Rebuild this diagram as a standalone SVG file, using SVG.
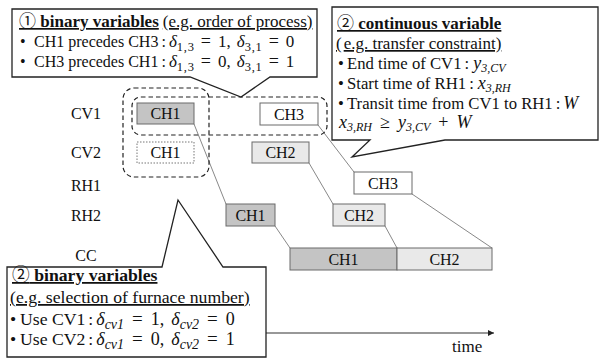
<svg xmlns="http://www.w3.org/2000/svg" width="601" height="359" viewBox="0 0 601 359">
<style>
text{font-family:'Liberation Serif',serif;fill:#111}
.cjk{font-family:'Noto Sans CJK JP',sans-serif;font-weight:normal}
.lbl{font-size:16px;text-anchor:middle}
.nb{stroke:#6a6a6a;stroke-width:1}
.dk{fill:#c4c4c4}
.lt{fill:#e9e9e9}
.wh{fill:#fff}
.con line{stroke:#7a7a7a;stroke-width:0.9}
.dash{fill:none;stroke:#222;stroke-width:1.2;stroke-dasharray:4.5,3}
.call{fill:#fff;stroke:#222;stroke-width:1.3}
.b{font-weight:bold}
.u{text-decoration:underline}
.m{font-style:italic}
.s1{font-size:12.5px;letter-spacing:0.8px}
.s2{font-size:12px;font-style:italic}
.s3{font-size:14px;font-style:italic}
</style>
<defs>
<marker id="ah" markerWidth="8" markerHeight="8" refX="6" refY="3" orient="auto" markerUnits="userSpaceOnUse">
<path d="M0,0 L6,3 L0,6 Z" fill="#222"/>
</marker>
</defs>

<g id="row-labels">
<text class="lbl" x="86" y="119">CV1</text>
<text class="lbl" x="86" y="158">CV2</text>
<text class="lbl" x="86" y="191">RH1</text>
<text class="lbl" x="86" y="221">RH2</text>
<text class="lbl" x="86" y="261">CC</text>
</g>

<g id="connectors" class="con">
<line x1="194" y1="124" x2="226" y2="204"/>
<line x1="275" y1="226" x2="290" y2="248"/>
<line x1="309" y1="163" x2="333" y2="204"/>
<line x1="385" y1="226" x2="397" y2="248"/>
<line x1="318" y1="125" x2="354" y2="172"/>
<line x1="412" y1="194" x2="492" y2="248"/>
</g>

<g id="cv1-ch1"><rect class="nb dk" x="137" y="103" width="57" height="21"/><text class="lbl" x="165.5" y="119">CH1</text></g>
<g id="cv2-ch1"><rect x="137" y="142" width="57" height="21" fill="#fff" stroke="#777" stroke-width="1" stroke-dasharray="1.5,1.5"/><text class="lbl" x="165.5" y="158">CH1</text></g>
<g id="cv1-ch3"><rect class="nb wh" x="260" y="103" width="58" height="22"/><text class="lbl" x="289" y="119.5">CH3</text></g>
<g id="cv2-ch2"><rect class="nb lt" x="252" y="142" width="57" height="21"/><text class="lbl" x="280.5" y="158">CH2</text></g>
<g id="rh1-ch3"><rect class="nb wh" x="354" y="172" width="58" height="22"/><text class="lbl" x="383" y="188.5">CH3</text></g>
<g id="rh2-ch1"><rect class="nb dk" x="226" y="204" width="49" height="22"/><text class="lbl" x="250.5" y="220.5">CH1</text></g>
<g id="rh2-ch2"><rect class="nb lt" x="333" y="204" width="52" height="22"/><text class="lbl" x="359" y="220.5">CH2</text></g>
<g id="cc-ch1"><rect class="nb dk" x="290" y="248" width="107" height="22"/><text class="lbl" x="343.5" y="264.5">CH1</text></g>
<g id="cc-ch2"><rect class="nb lt" x="397" y="248" width="95" height="22"/><text class="lbl" x="444.5" y="264.5">CH2</text></g>

<g id="groups">
<rect class="dash" x="123" y="88" width="86" height="89" rx="11"/>
<rect class="dash" x="132" y="97" width="195" height="38" rx="9"/>
</g>

<g id="time-axis">
<line x1="266" y1="333" x2="494" y2="333" stroke="#333" stroke-width="1.2" marker-end="url(#ah)"/>
<text x="452" y="352" font-size="17">time</text>
</g>

<g id="callout-order">
<path class="call" d="M12,9 H317 V77 H270 L241,97 L190,77 H12 Z"/>
<text x="19" y="27" font-size="17" class="u"><tspan class="cjk">①</tspan><tspan class="b"> binary variables</tspan><tspan dx="4">(e.g. order of process)</tspan></text>
<text y="47" font-size="16"><tspan x="20">•</tspan><tspan x="34">CH1 precedes CH3</tspan><tspan dx="3">:</tspan><tspan dx="3" class="m" font-size="17">δ</tspan><tspan dy="4" class="s1">1,3</tspan><tspan dx="6" dy="-4" font-size="18">=</tspan><tspan dx="7" font-size="17">1,</tspan><tspan dx="6" class="m" font-size="17">δ</tspan><tspan dy="4" class="s1">3,1</tspan><tspan dx="6" dy="-4" font-size="18">=</tspan><tspan dx="7" font-size="17">0</tspan></text>
<text y="67" font-size="16"><tspan x="20">•</tspan><tspan x="34">CH3 precedes CH1</tspan><tspan dx="3">:</tspan><tspan dx="3" class="m" font-size="17">δ</tspan><tspan dy="4" class="s1">1,3</tspan><tspan dx="6" dy="-4" font-size="18">=</tspan><tspan dx="7" font-size="17">0,</tspan><tspan dx="6" class="m" font-size="17">δ</tspan><tspan dy="4" class="s1">3,1</tspan><tspan dx="6" dy="-4" font-size="18">=</tspan><tspan dx="7" font-size="17">1</tspan></text>
</g>

<g id="callout-transfer">
<path class="call" d="M332,7 H598 V140 H445 L352,157 L370,140 H332 Z"/>
<text x="337" y="29" font-size="17" class="u"><tspan class="cjk">②</tspan><tspan class="b"> continuous variable</tspan></text>
<text x="336" y="49" font-size="17" class="u">(<tspan dx="2">e.g. transfer constraint)</tspan></text>
<text y="69" font-size="16.7"><tspan x="338">•</tspan><tspan x="347">End time of CV1</tspan><tspan dx="3">:</tspan><tspan dx="4" class="m" font-size="18">y</tspan><tspan dy="3" class="s2">3,CV</tspan></text>
<text y="89" font-size="16.7"><tspan x="338">•</tspan><tspan x="347">Start time of RH1</tspan><tspan dx="3">:</tspan><tspan dx="4" class="m" font-size="18">x</tspan><tspan dy="3" class="s2">3,RH</tspan></text>
<text y="109" font-size="16.7"><tspan x="338">•</tspan><tspan x="347">Transit time from CV1 to RH1</tspan><tspan dx="3">:</tspan><tspan dx="3" class="m" font-size="18">W</tspan></text>
<text y="128" font-size="17"><tspan x="339" class="m" font-size="18">x</tspan><tspan dy="3" class="s2">3,RH</tspan><tspan dx="8" dy="-3" font-size="18">≥</tspan><tspan dx="8" class="m" font-size="18">y</tspan><tspan dy="3" class="s2">3,CV</tspan><tspan dx="8" dy="-3" font-size="18">+</tspan><tspan dx="8" class="m" font-size="18">W</tspan></text>
</g>

<g id="callout-furnace">
<path class="call" d="M7,267 H162 L178,200 L223,267 H266 V357 H7 Z"/>
<text x="12" y="281" font-size="17.7" class="u"><tspan class="cjk">②</tspan><tspan class="b"> binary variables</tspan></text>
<text x="10" y="303" font-size="17.7" class="u"> (e.g. selection of furnace number)</text>
<text y="325" font-size="17.7"><tspan x="10">•</tspan><tspan x="20">Use CV1</tspan><tspan dx="3">:</tspan><tspan dx="3" class="m" font-size="18">δ</tspan><tspan dy="4" class="s3">cv1</tspan><tspan dx="8" dy="-4" font-size="19">=</tspan><tspan dx="8" font-size="18">1,</tspan><tspan dx="7" class="m" font-size="18">δ</tspan><tspan dy="4" class="s3">cv2</tspan><tspan dx="8" dy="-4" font-size="19">=</tspan><tspan dx="8" font-size="18">0</tspan></text>
<text y="345" font-size="17.7"><tspan x="10">•</tspan><tspan x="20">Use CV2</tspan><tspan dx="3">:</tspan><tspan dx="3" class="m" font-size="18">δ</tspan><tspan dy="4" class="s3">cv1</tspan><tspan dx="8" dy="-4" font-size="19">=</tspan><tspan dx="8" font-size="18">0,</tspan><tspan dx="7" class="m" font-size="18">δ</tspan><tspan dy="4" class="s3">cv2</tspan><tspan dx="8" dy="-4" font-size="19">=</tspan><tspan dx="8" font-size="18">1</tspan></text>
</g>
</svg>
